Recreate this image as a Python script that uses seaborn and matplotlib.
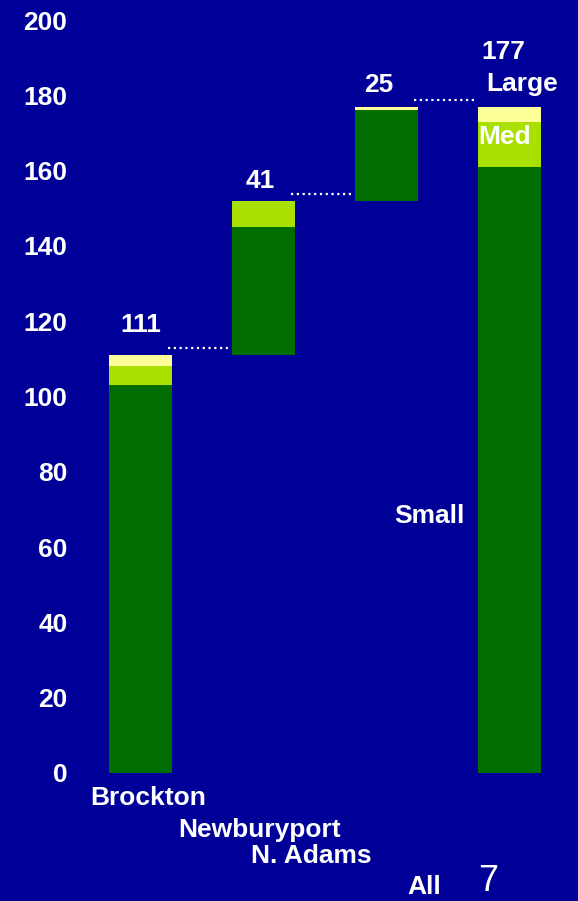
import matplotlib
matplotlib.use("Agg")
import matplotlib.pyplot as plt
import seaborn as sns
import pandas as pd

# Facility size breakdown per town, stacked as a waterfall
towns = ["Brockton", "Newburyport", "N. Adams", "All"]
small = [103, 34, 24, 161]
med = [5, 7, 0, 12]
large = [3, 0, 1, 4]
start = [0, 111, 152, 0]
yticks = [0, 20, 40, 60, 80, 100, 120, 140, 160, 180, 200]

BG = "#000099"
GREEN = "#006e00"
LIME = "#aae000"
CREAM = "#ffff99"
FONT = ["Liberation Sans", "DejaVu Sans"]

df = pd.DataFrame({"town": towns, "small": small, "med": med,
                   "large": large, "start": start})
df["total"] = df["small"] + df["med"] + df["large"]
df["top"] = df["start"] + df["total"]

sns.set_theme(style="white")
plt.rcParams["font.family"] = FONT

fig = plt.figure(figsize=(5.78, 9.01), dpi=100, facecolor=BG)
ax = fig.add_axes([80 / 578, 128 / 901, 498 / 578, 753 / 901])
ax.set_facecolor(BG)

width = 0.512
bottoms = list(df["start"])
for col, colour in [("small", GREEN), ("med", LIME), ("large", CREAM)]:
    sns.barplot(data=df, x="town", y=col, order=towns, bottom=bottoms,
                color=colour, saturation=1, width=width, errorbar=None,
                linewidth=0, ax=ax)
    bottoms = [b + v for b, v in zip(bottoms, df[col])]

# dotted connectors between consecutive steps
for i in range(len(towns) - 1):
    y = df["top"][i] + 1.8
    ax.hlines(y, i + width / 2 - 0.03, i + 1 - width / 2 - 0.03,
              colors="white", linestyles=(0, (1, 1.6)), linewidth=1.6)

ax.set_xlim((80 - 140.5) / 123, (578 - 140.5) / 123)
ax.set_ylim(0, 200)
ax.set_yticks(yticks)
ax.set_yticklabels([str(t) for t in yticks])
ax.tick_params(axis="y", length=0, pad=9, labelsize=19, labelcolor="white")
for lab in ax.get_yticklabels():
    lab.set_fontweight("bold")
ax.set_xticks([])
ax.set_xlabel("")
ax.set_ylabel("")
sns.despine(ax=ax, left=True, bottom=True)

txt = dict(color="white", fontsize=19, fontweight="bold",
           ha="center", va="center", clip_on=False)

# step totals above each bar
total_pos = [(0.0, 119.0), (0.97, 157.2), (1.94, 182.7), (2.95, 191.5)]
for (x, y), v in zip(total_pos, df["total"]):
    ax.text(x, y, str(v), **txt)

ax.text(3.10, 183.0, "Large", **txt)
ax.text(2.96, 169.0, "Med", **txt)
ax.text(2.35, 68.3, "Small", **txt)

# staggered category labels
name_pos = [(0.06, -6.6), (0.97, -15.1), (1.39, -22.0), (2.31, -30.3)]
for (x, y), name in zip(name_pos, towns):
    ax.text(x, y, name, **txt)
ax.text(2.83, -28.7, "7", color="white", fontsize=26, ha="center",
        va="center", clip_on=False)

fig.savefig("out.png", dpi=100, facecolor=BG)
